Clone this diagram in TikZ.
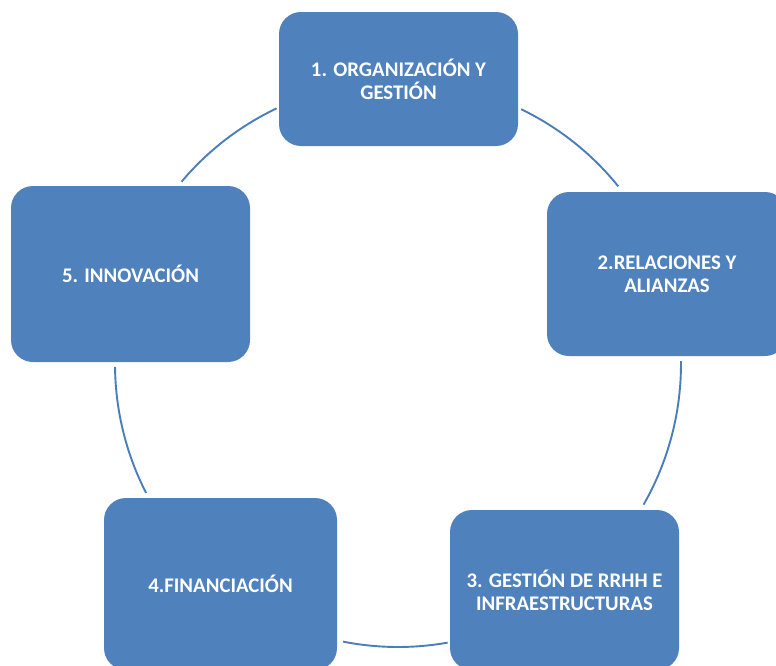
\documentclass[tikz,border=0pt]{standalone}
\usepackage{fontspec}
\setmainfont{Carlito}
\definecolor{boxblue}{HTML}{4F81BD}
\definecolor{arcblue}{HTML}{4A7EBB}
\begin{document}
\begin{tikzpicture}[x=0.5pt,y=0.5pt,
  stagebox/.style={rectangle, rounded corners=11pt, fill=boxblue, draw=none,
    text=white, font=\fontsize{10.4pt}{11.6pt}\selectfont\bfseries, align=center, inner sep=0pt},
  cyclearc/.style={draw=arcblue, line width=0.95pt}]
\useasboundingbox (0,0) rectangle (776,-665);
\begin{scope}
\clip (0,0) rectangle (776,-665);
\node[stagebox, minimum width=119.5pt, minimum height=67pt] (b1) at (398.5,-79) {1. ORGANIZACIÓN Y\\GESTIÓN};
\node[stagebox, minimum width=120pt, minimum height=82pt] (b2) at (667,-274) {2.RELACIONES Y\\ALIANZAS};
\node[stagebox, minimum width=114.5pt, minimum height=80pt] (b3) at (564.5,-590) {3. GESTIÓN DE RRHH E\\INFRAESTRUCTURAS};
\node[stagebox, minimum width=116.5pt, minimum height=86pt] (b4) at (220.5,-584) {4.FINANCIACIÓN};
\node[stagebox, minimum width=119.5pt, minimum height=88pt] (b5) at (130.5,-274) {5. INNOVACIÓN};
\end{scope}
\coordinate (c) at (398,-364);
\draw[cyclearc] (c) ++(139.9:283) arc[start angle=139.9, end angle=115.4, radius=283];
\draw[cyclearc] (c) ++(64.2:283) arc[start angle=64.2, end angle=38.9, radius=283];
\draw[cyclearc] (c) ++(0.6:283) arc[start angle=0.6, end angle=-29.8, radius=283];
\draw[cyclearc] (c) ++(-79.9:283) arc[start angle=-79.9, end angle=-101.2, radius=283];
\draw[cyclearc] (c) ++(207.1:283) arc[start angle=207.1, end angle=180.6, radius=283];
\end{tikzpicture}
\end{document}
